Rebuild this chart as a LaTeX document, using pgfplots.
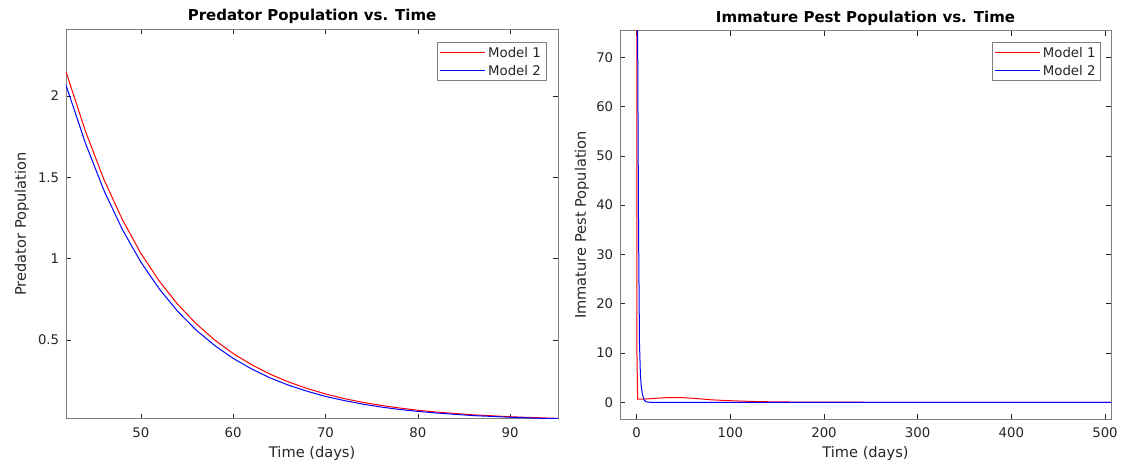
\documentclass[border=0pt]{standalone}
\usepackage{fontspec}
\setmainfont{DejaVu Sans}
\usepackage{pgfplots}
\pgfplotsset{compat=1.18}

\definecolor{axgray}{gray}{0.5}
\definecolor{txtgray}{gray}{0.15}
\definecolor{mred}{rgb}{1,0,0}
\definecolor{mblue}{rgb}{0,0,1}

\pgfplotsset{
  matstyle/.style={
    scale only axis,
    axis line style={axgray, line width=0.8pt},
    tick align=inside,
    tick pos=both,
    major tick length=5pt,
    every tick/.style={txtgray, line width=0.6pt},
    /pgf/number format/assume math mode=true,
    tick label style={font=\fontsize{13.3}{16}\selectfont, text=txtgray},
    xticklabel style={yshift=-5.5pt},
    yticklabel style={xshift=-3.3pt},
    every axis x label/.style={at={(axis description cs:0.5,0)}, anchor=north, yshift=-24pt,
      font=\fontsize{14.6}{17}\selectfont, text=txtgray},
    title style={font=\fontsize{15}{18}\bfseries\selectfont, text=black, at={(0.5,1)}, anchor=south, yshift=-4pt},
    legend cell align=left,
    legend image code/.code={\draw[#1] (0pt,0pt) -- (45pt,0pt);},
    legend style={
      draw=axgray, fill=white,
      font=\fontsize{13.3}{16}\selectfont, text=txtgray,
      inner xsep=2.5pt, inner ysep=1.3pt,
      nodes={inner xsep=2.5pt, inner ysep=4pt, text height=10pt, text depth=0pt},
      row sep=0pt,
      at={(1,1)}, anchor=north east,
    },
    every axis plot/.append style={line width=1pt},
  }
}

% Predator population, 42 to 95 days
\pgfplotstableread{
t     m1     m2
41.9  2.149  2.066
44    1.784  1.710
46    1.487  1.420
48    1.240  1.179
50    1.033  0.979
52    0.861  0.813
54    0.718  0.675
56    0.599  0.560
58    0.499  0.465
60    0.416  0.386
62    0.347  0.321
64    0.289  0.266
66    0.241  0.221
68    0.201  0.184
70    0.167  0.152
72    0.139  0.127
74    0.116  0.105
76    0.097  0.087
78    0.081  0.072
80    0.067  0.060
82    0.056  0.050
84    0.047  0.042
86    0.039  0.034
88    0.033  0.029
90    0.027  0.024
92    0.023  0.020
94    0.019  0.016
95.3  0.017  0.015
}\predator

% Immature pest population, 0 to 510 days
\pgfplotstableread{
t     v
0     100
0.3   10
1     0.62
5     0.64
10    0.68
20    0.80
30    0.92
40    0.96
50    0.93
60    0.82
70    0.66
80    0.50
90    0.40
100   0.32
115   0.22
130   0.14
150   0.08
175   0.04
200   0.02
250   0.006
300   0.002
400   0
510   0
}\pestA

\pgfplotstableread{
t     v
0     130
1     75
2     35
3     12
4     5.5
5     3.0
6     1.8
7     1.0
8     0.5
9     0.25
10    0.12
12    0.03
15    0
100   0
300   0
510   0
}\pestB

\begin{document}
\begin{tikzpicture}
\path[use as bounding box] (0,0) rectangle (1121pt,468pt);

\begin{axis}[matstyle,
  at={(66pt,49.3pt)}, anchor=south west,
  width=492.2pt, height=389.4pt,
  xmin=41.9, xmax=95.2, ymin=0.015, ymax=2.41,
  xtick={50,60,70,80,90},
  ytick={0.5,1,1.5,2},
  title={Predator Population vs. Time},
  xlabel={Time (days)},
  ylabel={Predator Population},
  every axis y label/.style={at={(axis description cs:-0.0683,0.5)}, rotate=90, anchor=south,
    font=\fontsize{14.6}{17}\selectfont, text=txtgray},
  legend style={xshift=-12.2pt, yshift=-12.6pt},
]
\addlegendimage{mred, line width=1pt}
\addlegendimage{mblue, line width=1pt}
\addplot[mred, no markers, forget plot] table[x=t, y=m1] {\predator};
\addplot[mblue, no markers, forget plot] table[x=t, y=m2] {\predator};
\legend{Model 1, Model 2}
\end{axis}

\begin{axis}[matstyle,
  at={(620pt,49pt)}, anchor=south west,
  width=491pt, height=388.3pt,
  xmin=-17.8, xmax=506.4, ymin=-3.39, ymax=75.4,
  xtick={0,100,200,300,400,500},
  ytick={0,10,20,30,40,50,60,70},
  title={Immature Pest Population vs. Time},
  xlabel={Time (days)},
  ylabel={Immature Pest Population},
  every axis y label/.style={at={(axis description cs:-0.0562,0.5)}, rotate=90, anchor=south,
    font=\fontsize{14.6}{17}\selectfont, text=txtgray},
  legend style={xshift=-10.3pt, yshift=-11pt},
]
\addlegendimage{mred, line width=1pt}
\addlegendimage{mblue, line width=1pt}
\addplot[mred, no markers, forget plot] table[x=t, y=v] {\pestA};
\addplot[mblue, no markers, forget plot] table[x=t, y=v] {\pestB};
\legend{Model 1, Model 2}
\end{axis}
\end{tikzpicture}
\end{document}
